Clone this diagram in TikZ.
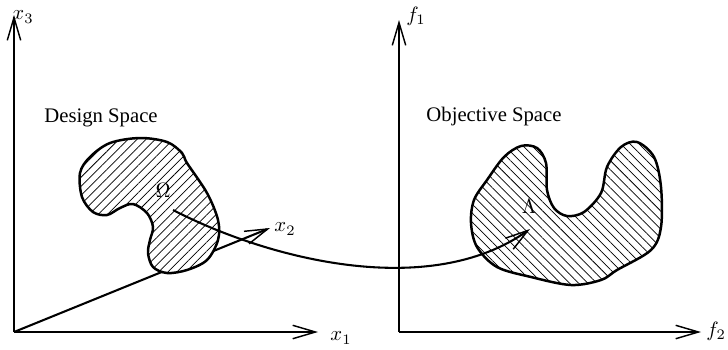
\documentclass[tikz,border=0pt]{standalone}
\usepackage{fontspec}
\setmainfont{Liberation Serif}
\usetikzlibrary{arrows.meta,patterns.meta}

\begin{document}
\begin{tikzpicture}[x=0.483pt, y=-0.483pt,
    axis/.style = {line width=1pt, -{Straight Barb[length=11pt, width=6.5pt, line width=0.7pt]}},
    region/.style = {line width=1.2pt, preaction={fill=white}},
    map/.style = {line width=1pt, -{Straight Barb[length=11pt, width=6.5pt, line width=0.7pt]}}]
            \useasboundingbox (0,0) rectangle (728,349);

            % design space axes
            \coordinate (O1) at (14,332);
            \coordinate (x1tip) at (318,332);
            \coordinate (x2tip) at (270,228);
            \coordinate (x3tip) at (14,15);
            \draw[axis] (O1) -- (x1tip);
            \draw[axis] (O1) -- (x2tip);
            \draw[axis] (O1) -- (x3tip);
            \node (x1) at (341,338) {$x_1$};
            \node (x2) at (285,229) {$x_2$};
            \node (x3) at (23,17) {$x_3$};

            % objective space axes
            \coordinate (O2) at (399,332);
            \coordinate (f1tip) at (399,20);
            \coordinate (f2tip) at (701,332);
            \draw[axis] (O2) -- (f1tip);
            \draw[axis] (O2) -- (f2tip);
            \node (f1) at (416,16) {$f_1$};
            \node[anchor=west, inner sep=0pt] (f2) at (706,331) {$f_2$};

            \node (design) at (101,118) {Design Space};
            \node (objective) at (494,117) {Objective Space};

            % feasible region
            \draw[region, pattern={Lines[angle=45, distance=3.1pt, line width=0.35pt]}]
                plot[smooth cycle, tension=0.55] coordinates {
                (80,173) (90,157) (110,143) (140,138) (167,142) (182,153) (187,163)
                (207,193) (218,220) (218,240) (207,260) (187,270) (167,273) (153,267)
                (148,253) (150,240) (153,227) (147,213) (133,204) (120,208) (107,215)
                (93,212) (82,197)};

            % attainable set
            \draw[region, pattern={Lines[angle=-45, distance=3.1pt, line width=0.35pt]}]
                plot[smooth cycle, tension=0.55] coordinates {
                (521,146) (504,157) (487,180) (474,200) (471,223) (477,247) (497,267)
                (531,277) (571,285) (601,280) (617,270) (651,250) (661,227) (661,187)
                (654,157) (637,142) (621,147) (607,167) (601,193) (584,212) (567,216)
                (554,208) (547,190) (546,163) (537,148)};

            \node (Omega) at (163,190) {$\Omega$};
            \node (Lambda) at (529,206) {$\Lambda$};

            \coordinate (omega) at (173,210);
            \coordinate (lambda) at (530,229);
            \draw[map] (omega) .. controls (270,260) and (430,300) .. (lambda);
        \end{tikzpicture}
\end{document}
